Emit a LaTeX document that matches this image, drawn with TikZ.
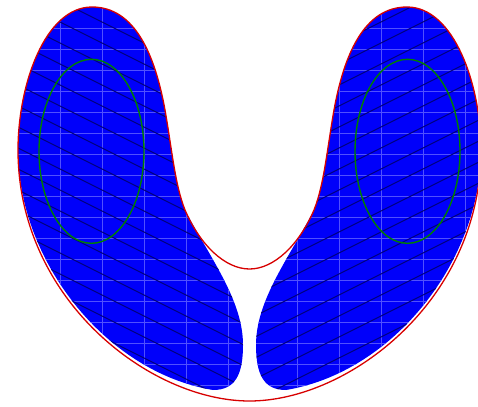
\documentclass[tikz,border=0pt]{standalone}
\definecolor{lobefill}{RGB}{0,0,250}
\definecolor{gridc}{RGB}{80,80,255}
\definecolor{hatchc}{RGB}{0,0,125}
\definecolor{outlinec}{RGB}{215,0,0}
\definecolor{ringc}{RGB}{0,128,0}
\tikzset{
  gridline/.style={gridc, line width=0.9pt},
  hatchline/.style={hatchc, line width=1pt},
  outline/.style={outlinec, line width=1.3pt},
  ring/.style={ringc, line width=1.4pt},
}
\def\leftlobe{(92,7) .. controls (135,7) and (155,55) .. (165,110) .. controls (172,150) and (175,185) .. (185,210) .. controls (210,258) and (243,300) .. (243,345) .. controls (243,375) and (235,390) .. (213,390) .. controls (105,372) and (18,260) .. (18,150) .. controls (18,85) and (45,7) .. (92,7) -- cycle}
\begin{document}
\begin{tikzpicture}[x=1pt,y=-1pt]
\useasboundingbox (0,0) rectangle (478,406);
% left lobe
\fill[lobefill] \leftlobe;
\begin{scope}
  \clip \leftlobe;
  \foreach \i in {1,...,6} \draw[gridline] ({18+42*\i},0) -- ({18+42*\i},406);
  \foreach \j in {1,...,19} \draw[gridline] (0,{7+21*\j}) -- (260,{7+21*\j});
  \foreach \c in {-302,-281,...,502} \draw[hatchline] (0,{\c}) -- (500,{\c+250});
\end{scope}
% right lobe
\fill[lobefill, shift={(499,0)}, xscale=-1] \leftlobe;
\begin{scope}
  \clip[shift={(499,0)}, xscale=-1] \leftlobe;
  \foreach \i in {1,...,6} \draw[gridline] ({255+42*\i},0) -- ({255+42*\i},406);
  \foreach \j in {1,...,19} \draw[gridline] (240,{7+21*\j}) -- (499,{7+21*\j});
  \foreach \c in {2.5,23.5,...,900} \draw[hatchline] (0,{\c}) -- (500,{\c-250});
\end{scope}
% outline
\draw[outline] (92,7) .. controls (45,7) and (18,85) .. (18,150)
  .. controls (18,300) and (150,401) .. (249.5,401)
  .. controls (349,401) and (481,300) .. (481,150)
  .. controls (481,85) and (454,7) .. (407,7)
  .. controls (364,7) and (344,55) .. (334,110)
  .. controls (327,150) and (324,185) .. (314,210)
  .. controls (299,245) and (274,269) .. (249.5,269)
  .. controls (225,269) and (200,245) .. (185,210)
  .. controls (175,185) and (172,150) .. (165,110)
  .. controls (155,55) and (135,7) .. (92,7) -- cycle;
% rings
\draw[ring] (91.5,151.3) ellipse [x radius=52.5pt, y radius=92pt];
\draw[ring] (407.5,151.3) ellipse [x radius=52.5pt, y radius=92pt];
\end{tikzpicture}
\end{document}
